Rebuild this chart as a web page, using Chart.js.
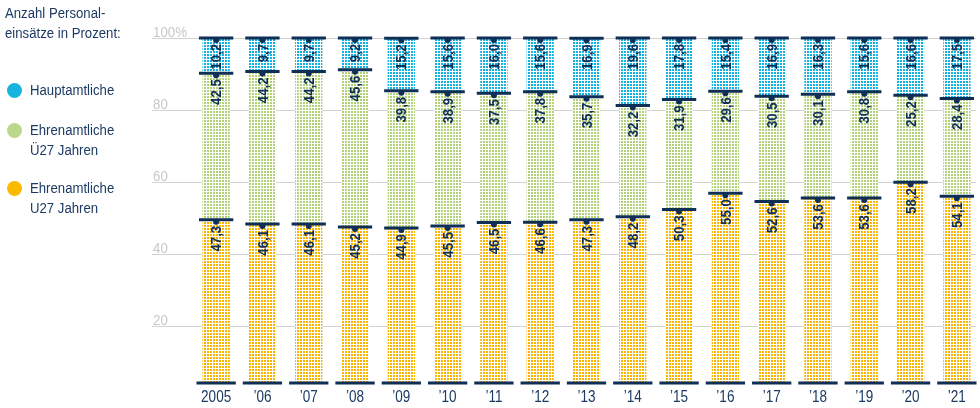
<!DOCTYPE html>
<html lang="de">
<head>
<meta charset="utf-8">
<title>Anzahl Personaleinsätze in Prozent</title>
<script src="https://cdn.jsdelivr.net/npm/chart.js@4/dist/chart.umd.min.js"></script>
<style>
  html, body { margin: 0; padding: 0; background: #fff; overflow: hidden; }
  body { width: 980px; height: 408px; position: relative;
         font-family: "Liberation Sans", Arial, sans-serif; color: #1c3a63; }
  #wrap { position: absolute; left: 0; top: 0; width: 980px; height: 408px; }
  .title, .item { position: absolute; font-size: 15.5px; line-height: 20px;
                  transform: scaleX(0.85); transform-origin: 0 0; white-space: nowrap; }
  .title { left: 5px; top: 3px; }
  .item { left: 30px; }
  .dot { position: absolute; left: 7px; width: 15px; height: 15px; border-radius: 50%; }
</style>
</head>
<body>
<div id="wrap"><canvas id="chart" width="980" height="408"></canvas></div>
<div class="title">Anzahl Personal-<br>einsätze in Prozent:</div>
<span class="dot" style="top:83px;background:#17b4e0"></span>
<span class="dot" style="top:123px;background:#bad88a"></span>
<span class="dot" style="top:181px;background:#fbba00"></span>
<div class="item" style="top:80px">Hauptamtliche</div>
<div class="item" style="top:120px">Ehrenamtliche<br>Ü27 Jahren</div>
<div class="item" style="top:178px">Ehrenamtliche<br>U27 Jahren</div>
<script>
document.addEventListener("DOMContentLoaded", () => {
  const years = ["2005", "’06", "’07", "’08", "’09", "’10", "’11", "’12", "’13",
                 "’14", "’15", "’16", "’17", "’18", "’19", "’20", "’21"];
  const u27 = [47.3, 46.1, 46.1, 45.2, 44.9, 45.5, 46.5, 46.6, 47.3, 48.2, 50.3, 55.0, 52.6, 53.6, 53.6, 58.2, 54.1];
  const ue27 = [42.5, 44.2, 44.2, 45.6, 39.8, 38.9, 37.5, 37.8, 35.7, 32.2, 31.9, 29.6, 30.5, 30.1, 30.8, 25.2, 28.4];
  const haupt = [10.2, 9.7, 9.7, 9.2, 15.2, 15.6, 16.0, 15.6, 16.9, 19.6, 17.8, 15.4, 16.9, 16.3, 15.6, 16.6, 17.5];
  const gridTicks = [20, 40, 60, 80, 100];

  const NAVY = "#0f2f56";
  const FONT = '"Liberation Sans", Arial, sans-serif';

  const canvas = document.getElementById("chart");
  const ctx = canvas.getContext("2d");

  // white background with small coloured dots, like the printed raster
  function dots(color) {
    const c = document.createElement("canvas");
    c.width = 3;
    c.height = 3;
    const g = c.getContext("2d");
    g.fillStyle = "#fff";
    g.fillRect(0, 0, 3, 3);
    g.fillStyle = color;
    g.fillRect(0, 0, 2, 2);
    return ctx.createPattern(c, "repeat");
  }

  const fmt = v => v.toFixed(1).replace(".", ",");

  // the print face is condensed; squeeze Liberation Sans horizontally
  function narrowText(g, text, x, y, sx) {
    g.save();
    g.translate(x, y);
    g.scale(sx, 1);
    g.fillText(text, 0, 0);
    g.restore();
  }

  const gridPlugin = {
    id: "gridLines",
    beforeDatasetsDraw(chart) {
      const g = chart.ctx;
      const s = chart.scales.yGrid;
      g.save();
      g.font = "15.5px " + FONT;
      g.textAlign = "left";
      g.textBaseline = "alphabetic";
      gridTicks.forEach(v => {
        const y = Math.round(s.getPixelForValue(v)) + 0.5;
        g.strokeStyle = "#d2d2d2";
        g.lineWidth = 1;
        g.beginPath();
        g.moveTo(152, y);
        g.lineTo(976, y);
        g.stroke();
        g.fillStyle = "#c8c8c8";
        narrowText(g, v === 100 ? "100%" : String(v), 153, y - 2, 0.86);
      });
      g.restore();
    },
  };

  const capsPlugin = {
    id: "caps",
    afterDatasetsDraw(chart) {
      const g = chart.ctx;
      const x = chart.scales.x;
      g.save();
      g.fillStyle = NAVY;
      g.strokeStyle = NAVY;
      chart.data.datasets.forEach((ds, di) => {
        const meta = chart.getDatasetMeta(di);
        meta.data.forEach((bar, i) => {
          const half = bar.width / 2;
          g.lineWidth = 3;
          g.beginPath();
          g.moveTo(bar.x - half - 3.5, bar.y);
          g.lineTo(bar.x + half + 3.5, bar.y);
          g.stroke();
          g.beginPath();
          g.arc(bar.x, bar.y + 2, 3, 0, Math.PI * 2);
          g.fill();
          if (di === 0) {
            g.beginPath();
            g.moveTo(bar.x - half - 6, bar.base);
            g.lineTo(bar.x + half + 6, bar.base);
            g.stroke();
          }
          // value label, rotated, hanging under the cap
          g.save();
          g.translate(bar.x, bar.y + 6);
          g.rotate(-Math.PI / 2);
          g.scale(0.88, 1);
          g.font = "bold 15px " + FONT;
          g.textAlign = "right";
          g.textBaseline = "middle";
          g.fillText(fmt(ds.data[i]), 0, 1);
          g.restore();
        });
      });
      // year labels under the base line
      g.fillStyle = "#1c3a63";
      g.font = "16.5px " + FONT;
      g.textAlign = "center";
      g.textBaseline = "middle";
      years.forEach((lab, i) => {
        narrowText(g, lab, x.getPixelForValue(i), 397, 0.82);
      });
      g.restore();
    },
  };

  new Chart(canvas, {
    type: "bar",
    data: {
      labels: years,
      datasets: [
        { label: "Ehrenamtliche U27 Jahren", data: u27, backgroundColor: dots("#fab400") },
        { label: "Ehrenamtliche Ü27 Jahren", data: ue27, backgroundColor: dots("#b2d178") },
        { label: "Hauptamtliche", data: haupt, backgroundColor: dots("#14b2e0") },
      ],
    },
    options: {
      responsive: false,
      animation: false,
      layout: { padding: { left: 193, right: 0, top: 38, bottom: 25 } },
      datasets: { bar: { categoryPercentage: 1, barPercentage: 0.59, borderWidth: 0 } },
      scales: {
        x: { stacked: true, display: false },
        y: { stacked: true, display: false, min: 0, max: 100 },
        yGrid: { display: false, min: 4.17, max: 100 },
      },
      plugins: {
        legend: { display: false },
        tooltip: { enabled: false },
      },
    },
    plugins: [gridPlugin, capsPlugin],
  });
});
</script>
</body>
</html>
